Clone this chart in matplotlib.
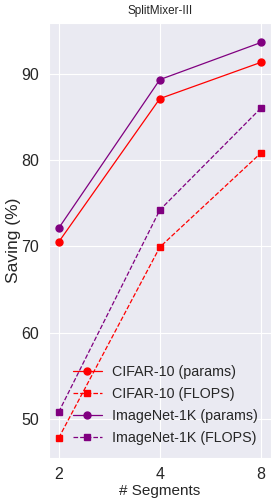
import matplotlib
matplotlib.use("Agg")
import matplotlib.pyplot as plt
import seaborn as sns

sns.set_style("darkgrid")
plt.rcParams['font.family'] = ['Liberation Sans', 'DejaVu Sans']

segments = [2, 4, 8]
x_labels = ["2", "4", "8"]
cifar_params = [70.5, 87.1, 91.3]
cifar_flops = [47.8, 69.9, 80.8]
imagenet_params = [72.1, 89.3, 93.6]
imagenet_flops = [50.8, 74.2, 86.0]

fig, ax = plt.subplots(figsize=(2.78, 5.03), dpi=100)
xs = list(range(len(segments)))
ax.plot(xs, cifar_params, color='red', marker='o', ms=5, lw=0.9, label='CIFAR-10 (params)')
ax.plot(xs, cifar_flops, color='red', marker='s', ms=5, lw=0.9, ls='--', label='CIFAR-10 (FLOPS)')
ax.plot(xs, imagenet_params, color='purple', marker='o', ms=5, lw=0.9, label='ImageNet-1K (params)')
ax.plot(xs, imagenet_flops, color='purple', marker='s', ms=5, lw=0.9, ls='--', label='ImageNet-1K (FLOPS)')

ax.set_xticks(xs)
ax.set_xticklabels(x_labels)
ax.set_ylim(45.5, 95.9)
ax.set_yticks([50, 60, 70, 80, 90])
ax.tick_params(labelsize=11.5)
ax.set_xlabel('# Segments', fontsize=11, labelpad=1)
ax.set_ylabel('Saving (%)', fontsize=12.5, labelpad=0)
ax.set_title('SplitMixer-III', fontsize=8.5)
ax.legend(loc='lower right', fontsize=10.3, frameon=False, handlelength=2,
          labelspacing=0.55, handletextpad=0.75)

fig.subplots_adjust(left=0.175, right=0.975, top=0.955, bottom=0.09)
fig.savefig('out.png', dpi=100)
